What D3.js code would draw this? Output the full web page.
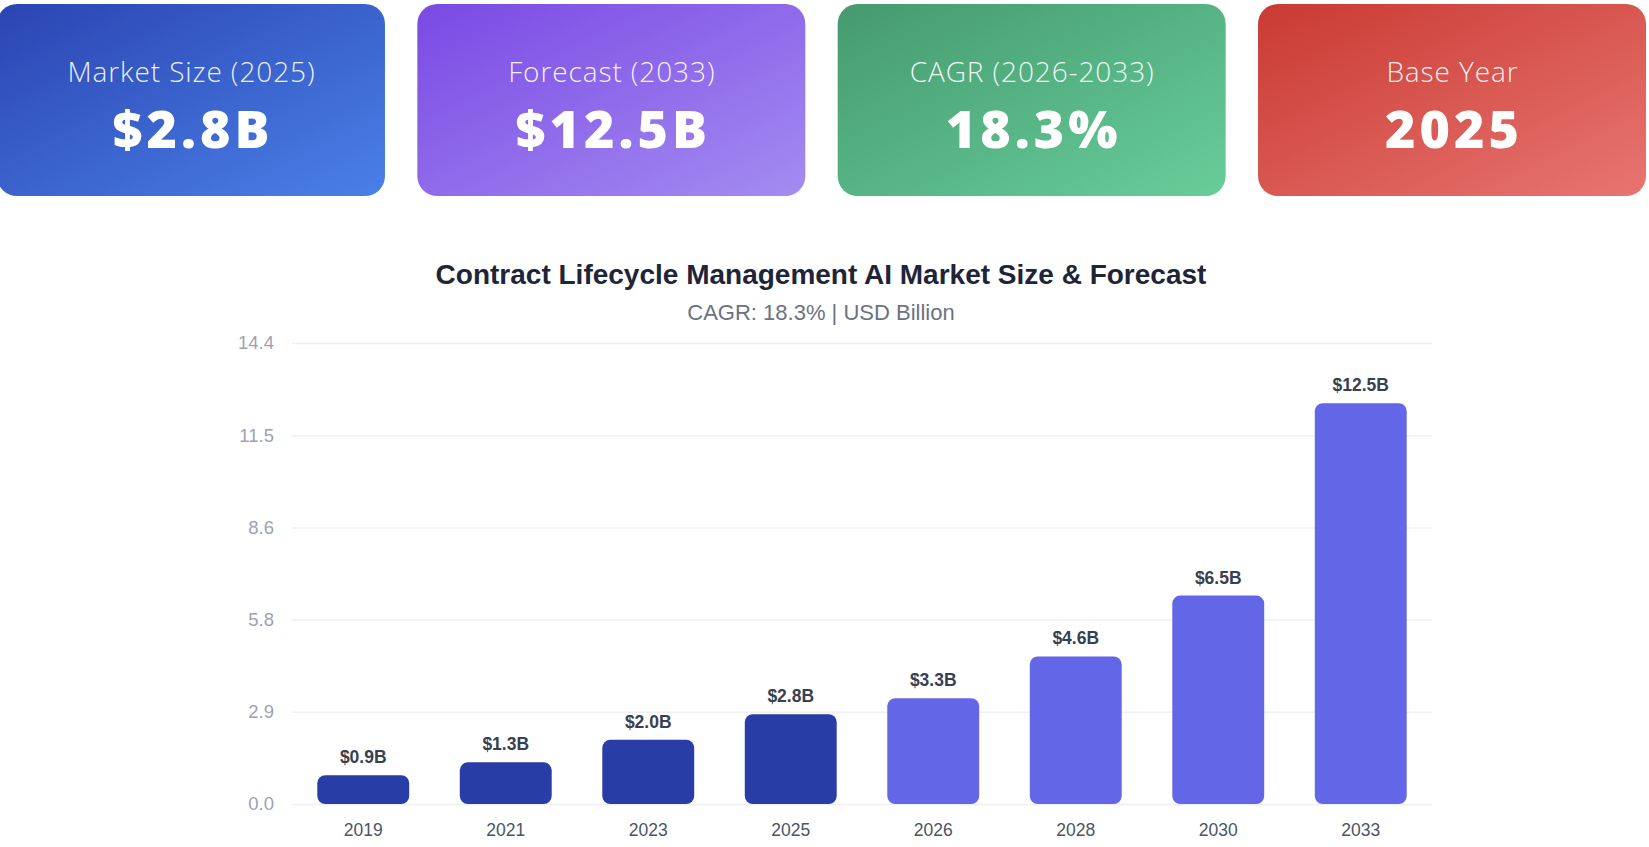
<!DOCTYPE html>
<html>
<head>
<meta charset="utf-8">
<script src="https://cdn.jsdelivr.net/npm/d3@7"></script>
<style>
  html, body { margin: 0; padding: 0; background: #ffffff; overflow: hidden; }
  svg { display: block; }
</style>
</head>
<body>
<svg id="chart" width="1649" height="847"></svg>
<script>
// ---- Data ----
const cardLabels = ["Market Size (2025)", "Forecast (2033)", "CAGR (2026-2033)", "Base Year"];
const cardValues = ["$2.8B", "$12.5B", "18.3%", "2025"];
const cardColorsFrom = ["#2b45b2", "#7a49e4", "#459a6e", "#c93a32"];
const cardColorsTo = ["#4a80e8", "#a48cf1", "#68cd9a", "#e87571"];

const years = ["2019", "2021", "2023", "2025", "2026", "2028", "2030", "2033"];
const values = [0.9, 1.3, 2.0, 2.8, 3.3, 4.6, 6.5, 12.5];
const isForecast = [false, false, false, false, true, true, true, true];
const yMax = 14.375;
const yTickLabels = ["0.0", "2.9", "5.8", "8.6", "11.5", "14.4"];

const titleText = "Contract Lifecycle Management AI Market Size & Forecast";
const subtitleText = "CAGR: 18.3% | USD Billion";

// ---- Drawing ----
const svg = d3.select("#chart");
const defs = svg.append("defs");

// KPI cards
const cardX = d3.scaleBand().domain(d3.range(4)).range([-3, 1646]).paddingInner(0.077).paddingOuter(0);
cardLabels.forEach((_, i) => {
  const g = defs.append("linearGradient").attr("id", "cg" + i)
    .attr("x1", "0%").attr("y1", "0%").attr("x2", "100%").attr("y2", "100%");
  g.append("stop").attr("offset", "0%").attr("stop-color", cardColorsFrom[i]);
  g.append("stop").attr("offset", "100%").attr("stop-color", cardColorsTo[i]);
});
const cards = svg.append("g").selectAll("g").data(cardLabels).join("g")
  .attr("transform", (d, i) => `translate(${cardX(i)},4)`);
cards.append("rect")
  .attr("width", cardX.bandwidth()).attr("height", 192)
  .attr("rx", 20).attr("ry", 20)
  .attr("fill", (d, i) => `url(#cg${i})`);
const lblLS = 0.9, valLS = 4;
cards.append("text")
  .attr("x", cardX.bandwidth() / 2 + lblLS / 2).attr("y", 78)
  .attr("text-anchor", "middle")
  .style("font-family", "'Open Sans', 'Noto Sans', sans-serif")
  .style("font-weight", 300).style("font-size", "28px")
  .style("letter-spacing", lblLS + "px")
  .attr("fill", "rgba(255,255,255,0.92)")
  .text(d => d);
cards.append("text")
  .attr("x", cardX.bandwidth() / 2 + valLS / 2).attr("y", 144)
  .attr("text-anchor", "middle")
  .style("font-family", "'Open Sans', 'Noto Sans', sans-serif")
  .style("font-weight", 800).style("font-size", "52px")
  .style("letter-spacing", valLS + "px")
  .attr("fill", "#ffffff")
  .text((d, i) => cardValues[i]);

// Title
svg.append("text").attr("x", 821).attr("y", 284).attr("text-anchor", "middle")
  .style("font-family", "'Liberation Sans', Arial, sans-serif")
  .style("font-weight", 700).style("font-size", "28px")
  .attr("fill", "#1e2538").text(titleText);
svg.append("text").attr("x", 821).attr("y", 320).attr("text-anchor", "middle")
  .style("font-family", "'Liberation Sans', Arial, sans-serif")
  .style("font-size", "22px")
  .attr("fill", "#6b7280").text(subtitleText);

// Plot
const plot = { left: 292, right: 1432, top: 343, bottom: 804 };
const x = d3.scaleBand().domain(years).range([plot.left, plot.right]).paddingInner(0.355).paddingOuter(0.1775);
const y = d3.scaleLinear().domain([0, yMax]).range([plot.bottom, plot.top]);
const tickVals = yTickLabels.map((t, i) => i * yMax / (yTickLabels.length - 1));

const yAxis = d3.axisLeft(y).tickValues(tickVals)
  .tickFormat((d, i) => yTickLabels[i])
  .tickSize(-(plot.right - plot.left)).tickPadding(18);
const ya = svg.append("g").attr("transform", `translate(${plot.left},0)`).call(yAxis);
ya.select(".domain").remove();
ya.selectAll(".tick line").attr("stroke", "#eff0f3").attr("stroke-width", 1.5);
ya.selectAll(".tick text")
  .style("font-family", "'Liberation Sans', Arial, sans-serif")
  .style("font-size", "18.5px").attr("fill", "#9ca3af");

const xAxis = d3.axisBottom(x).tickSize(0).tickPadding(20);
const xa = svg.append("g").attr("transform", `translate(0,${plot.bottom})`).call(xAxis);
xa.select(".domain").remove();
xa.selectAll(".tick text")
  .style("font-family", "'Liberation Sans', Arial, sans-serif")
  .style("font-size", "17.5px").attr("fill", "#4b5563");

const data = years.map((yr, i) => ({ yr, v: values[i], f: isForecast[i] }));
svg.append("g").selectAll("rect").data(data).join("rect")
  .attr("x", d => x(d.yr)).attr("width", x.bandwidth())
  .attr("y", d => y(d.v)).attr("height", d => y(0) - y(d.v))
  .attr("rx", 8).attr("ry", 8)
  .attr("fill", d => d.f ? "#6366e6" : "#283da6");

svg.append("g").selectAll("text").data(data).join("text")
  .attr("x", d => x(d.yr) + x.bandwidth() / 2)
  .attr("y", d => y(d.v) - 12)
  .attr("text-anchor", "middle")
  .style("font-family", "'Liberation Sans', Arial, sans-serif")
  .style("font-weight", 700).style("font-size", "17.5px")
  .attr("fill", "#374151")
  .text(d => `$${d.v.toFixed(1)}B`);
</script>
</body>
</html>
